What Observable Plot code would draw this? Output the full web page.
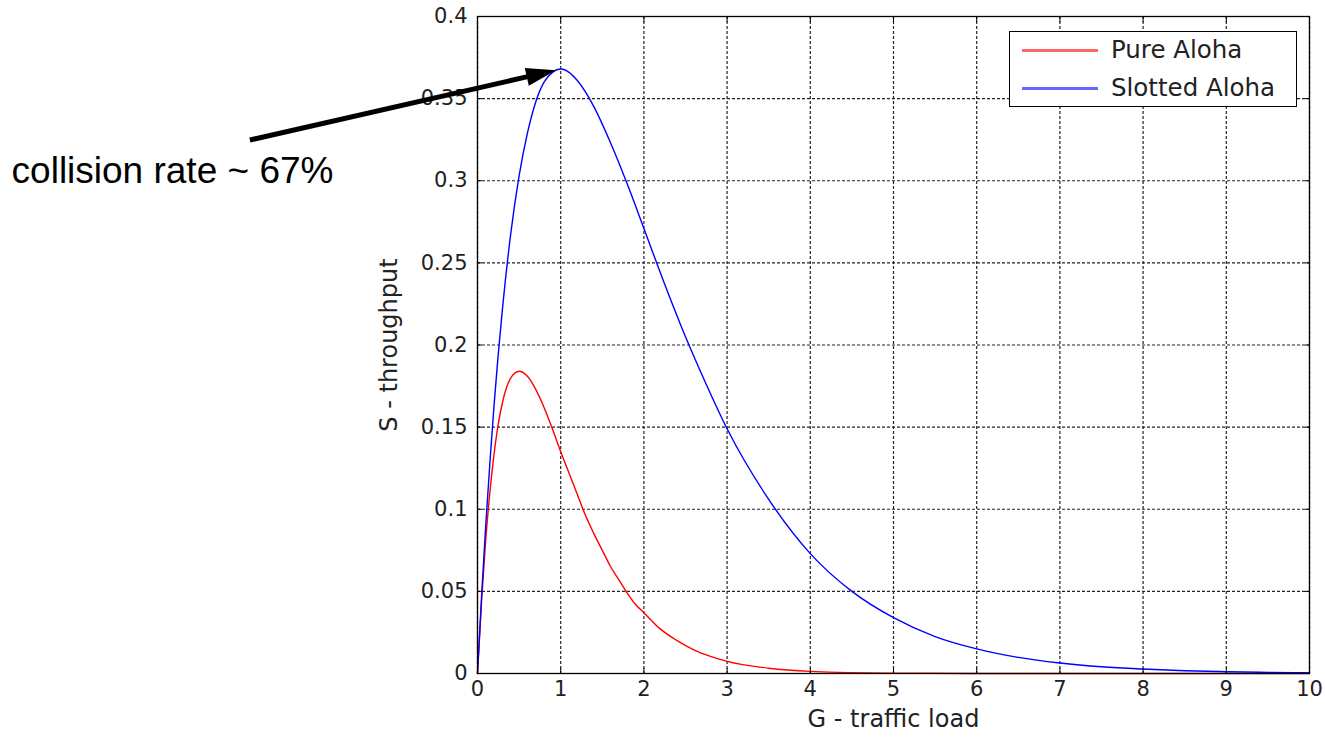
<!DOCTYPE html>
<html>
<head>
<meta charset="utf-8">
<script src="https://cdn.jsdelivr.net/npm/d3@7"></script>
<script src="https://cdn.jsdelivr.net/npm/@observablehq/plot@0.6"></script>
<style>
  html, body { margin: 0; padding: 0; background: #fff; }
  #wrap { position: relative; width: 1325px; height: 741px; overflow: hidden; }
  #legend { position: absolute; left: 1009px; top: 31px; width: 286px; height: 74px;
            border: 1.5px solid #000; background: #fff; font-family: "DejaVu Sans", sans-serif; }
  .sw { position: absolute; left: 12px; width: 76px; height: 3px; }
  .lbl { position: absolute; left: 101px; font-size: 24.5px; color: #222; white-space: nowrap; line-height: 30px; }
</style>
</head>
<body>
<div id="wrap"><div id="legend"></div></div>
<script>
// ---- data ----
const G_pure = [0, 0.05, 0.1, 0.15, 0.2, 0.25, 0.3, 0.4, 0.5, 0.6, 0.7, 0.8, 0.9, 1.0, 1.1, 1.2, 1.3, 1.4, 1.5, 1.6, 1.7, 1.8, 1.9, 2.0, 2.2, 2.4, 2.6, 2.8, 3.0, 3.5, 4.0, 5.0, 6.0, 7.0, 8.0, 10.0];
const S_pure = [0, 0.045, 0.082, 0.111, 0.134, 0.152, 0.165, 0.180, 0.184, 0.181, 0.173, 0.162, 0.149, 0.135, 0.122, 0.109, 0.096, 0.085, 0.075, 0.065, 0.057, 0.049, 0.042, 0.037, 0.027, 0.020, 0.0144, 0.0104, 0.0074, 0.0032, 0.0013, 0.0002, 0.00004, 0.00001, 0, 0];
const G_slot = [0, 0.05, 0.1, 0.15, 0.2, 0.3, 0.4, 0.5, 0.6, 0.7, 0.8, 0.9, 1.0, 1.1, 1.2, 1.4, 1.6, 1.8, 2.0, 2.25, 2.5, 2.75, 3.0, 3.5, 4.0, 4.5, 5.0, 5.5, 6.0, 6.5, 7.0, 7.5, 8.0, 8.5, 9.0, 9.5, 10.0];
const S_slot = [0, 0.048, 0.091, 0.129, 0.164, 0.222, 0.268, 0.303, 0.329, 0.348, 0.360, 0.366, 0.368, 0.366, 0.361, 0.345, 0.323, 0.298, 0.271, 0.237, 0.205, 0.176, 0.149, 0.106, 0.073, 0.050, 0.034, 0.0225, 0.015, 0.0098, 0.0064, 0.0041, 0.0027, 0.0017, 0.0011, 0.0007, 0.0005];
const seriesNames = ["Pure Aloha", "Slotted Aloha"];
const xTicks = [0, 1, 2, 3, 4, 5, 6, 7, 8, 9, 10];
const yTicks = [0, 0.05, 0.1, 0.15, 0.2, 0.25, 0.3, 0.35, 0.4];
const yTickLabels = ["0", "0.05", "0.1", "0.15", "0.2", "0.25", "0.3", "0.35", "0.4"];
const xLabel = "G - traffic load";
const yLabel = "S - throughput";
const annotationText = ["collision rate ~ 67%"];
const annotationAt = [{x: -5.6, y: 0.306}];
const arrowFrom = [{x: -2.73, y: 0.3245}];
const arrowTo = [{x: 0.95, y: 0.367}];

// ---- build ----
const colors = ["#ff0000", "#0000ff"];
const W = 1325, H = 741;
const mL = 477, mR = 16, mT = 16, mB = 68;
const font = "DejaVu Sans, sans-serif";

const rows = [];
G_pure.forEach((g, i) => rows.push({G: g, S: S_pure[i], series: seriesNames[0]}));
G_slot.forEach((g, i) => rows.push({G: g, S: S_slot[i], series: seriesNames[1]}));

const arrowRows = arrowFrom.map((a, i) => ({x1: a.x, y1: a.y, x2: arrowTo[i].x, y2: arrowTo[i].y}));

// custom arrow with filled head, positioned with Plot's scales
function arrowMark(data) {
  return (index, scales) => {
    const g = d3.create("svg:g");
    for (const d of data) {
      const x1 = scales.x(d.x1), y1 = scales.y(d.y1), x2 = scales.x(d.x2), y2 = scales.y(d.y2);
      const dx = x2 - x1, dy = y2 - y1, len = Math.hypot(dx, dy);
      const ux = dx / len, uy = dy / len, hl = 30, hw = 9;
      const bx = x2 - ux * hl, by = y2 - uy * hl;
      g.append("line").attr("x1", x1).attr("y1", y1).attr("x2", bx + ux * 2).attr("y2", by + uy * 2)
        .attr("stroke", "#000").attr("stroke-width", 5);
      g.append("polygon")
        .attr("points", [[x2, y2], [bx - uy * hw, by + ux * hw], [bx + uy * hw, by - ux * hw]].map(p => p.join(",")).join(" "))
        .attr("fill", "#000");
    }
    return g.node();
  };
}

const blank = () => "";

const chart = Plot.plot({
  width: W, height: H,
  marginLeft: mL, marginRight: mR, marginTop: mT, marginBottom: mB,
  style: {fontFamily: font, fontSize: "21px", color: "#222", background: "#fff"},
  x: {domain: [0, 10]},
  y: {domain: [0, 0.4]},
  color: {domain: seriesNames, range: colors},
  marks: [
    Plot.ruleX(xTicks, {stroke: "#222", strokeWidth: 1.2, strokeDasharray: "3,2"}),
    Plot.ruleY(yTicks, {stroke: "#222", strokeWidth: 1.2, strokeDasharray: "3,2"}),
    Plot.line(rows, {x: "G", y: "S", z: "series", stroke: "series", strokeWidth: 1.4, curve: "monotone-x"}),
    Plot.frame({stroke: "#000", strokeWidth: 1.3}),
    // inward tick marks on all sides
    Plot.axisX(xTicks, {anchor: "bottom", tickSize: -5, tickFormat: blank, label: null, stroke: "#000"}),
    Plot.axisX(xTicks, {anchor: "top", tickSize: -5, tickFormat: blank, label: null, stroke: "#000"}),
    Plot.axisY(yTicks, {anchor: "left", tickSize: -5, tickFormat: blank, label: null, stroke: "#000"}),
    Plot.axisY(yTicks, {anchor: "right", tickSize: -5, tickFormat: blank, label: null, stroke: "#000"}),
    // tick labels
    Plot.axisX(xTicks, {anchor: "bottom", tickSize: 0, tickPadding: 8, label: null, fontSize: 21, fill: "#222"}),
    Plot.axisY(yTicks, {anchor: "left", tickSize: 0, tickPadding: 10, label: null, fontSize: 21, fill: "#222",
      tickFormat: d => yTickLabels[yTicks.indexOf(d)]}),
    // axis labels
    Plot.text([xLabel], {frameAnchor: "bottom", dy: 53, fontSize: 24, fill: "#222", textAnchor: "middle", text: d => d}),
    Plot.text([yLabel], {frameAnchor: "left", dx: -88, rotate: -90, fontSize: 24, fill: "#222", textAnchor: "middle", text: d => d}),
    // annotation
    Plot.text(annotationAt, {x: "x", y: "y", text: (d, i) => annotationText[i], textAnchor: "start",
      fontSize: 37, fontFamily: "Liberation Sans, Arial, sans-serif", fill: "#000"}),
    arrowMark(arrowRows)
  ]
});
document.getElementById("wrap").prepend(chart);

// legend
const legend = document.getElementById("legend");
seriesNames.forEach((name, i) => {
  const top = i === 0 ? 3 : 41;
  const sw = document.createElement("div");
  sw.className = "sw";
  sw.style.top = (top + 14) + "px";
  sw.style.background = colors[i];
  sw.style.opacity = 0.6;
  legend.appendChild(sw);
  const lb = document.createElement("div");
  lb.className = "lbl";
  lb.style.top = top + "px";
  lb.textContent = name;
  legend.appendChild(lb);
});
</script>
</body>
</html>
